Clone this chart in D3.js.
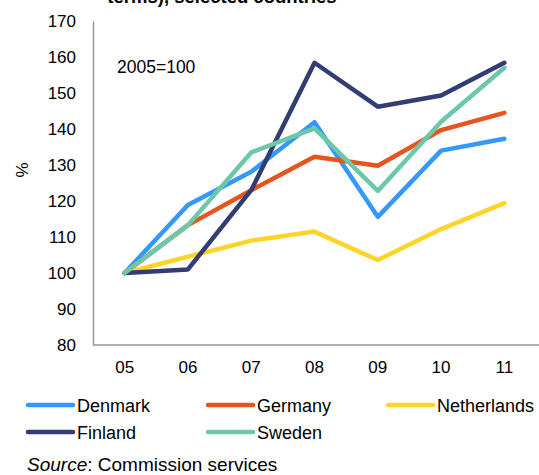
<!DOCTYPE html>
<html><head><meta charset="utf-8">
<script src="https://cdn.jsdelivr.net/npm/d3@7"></script>
<style>
html,body{margin:0;padding:0;background:#fff;}
svg{display:block;font-family:"Liberation Sans",Arial,sans-serif;}
</style></head>
<body>
<svg id="chart" width="539" height="475"></svg>
<script>
const categories = ["05","06","07","08","09","10","11"];
const yTicks = [80,90,100,110,120,130,140,150,160,170];
const seriesNames = ["Denmark","Germany","Netherlands","Finland","Sweden"];
const denmark     = [100,118.9,128.1,141.9,115.6,134.0,137.3];
const germany     = [100,113.3,123.0,132.3,129.8,139.7,144.5];
const netherlands = [100,104.5,109.0,111.5,103.6,112.2,119.4];
const finland     = [100,101.0,123.0,158.4,146.2,149.3,158.4];
const sweden      = [100,113.3,133.5,140.2,122.8,142.0,157.0];
const colors = ["#3399ff","#e8541e","#ffd42a","#333d73","#6cc9a8"];
const seriesValues = [denmark,germany,netherlands,finland,sweden];

(function(){
const svg = d3.select("#chart");
const mLeft = 93, mRight = 536, mTop = 21, mBottom = 345;

const x = d3.scaleBand().domain(categories).range([mLeft,mRight]);
const y = d3.scaleLinear().domain([80,170]).range([mBottom,mTop]);

// title (cut off at the top in the original)
svg.append("text").attr("x",222).attr("y",3).attr("text-anchor","middle")
  .attr("font-weight","bold").attr("font-size",18.5).text("terms), selected countries");

// axes
const yAxis = svg.append("g").attr("transform",`translate(${mLeft},0)`)
  .call(d3.axisLeft(y).tickValues(yTicks).tickSize(0).tickPadding(17));
yAxis.select(".domain").attr("stroke","#999").attr("stroke-width",1.5);
yAxis.selectAll("text").attr("font-size",17).attr("fill","#000")
  .attr("font-family","Liberation Sans, Arial, sans-serif");

const xAxis = svg.append("g").attr("transform",`translate(0,${mBottom})`)
  .call(d3.axisBottom(x).tickSize(0).tickPadding(16));
xAxis.select(".domain").attr("stroke","#999").attr("stroke-width",1.5).attr("d",`M${mLeft},0H539`);
xAxis.selectAll("text").attr("font-size",17).attr("fill","#000")
  .attr("font-family","Liberation Sans, Arial, sans-serif");

// y label
svg.append("text").attr("transform","translate(28,170) rotate(-90)")
  .attr("text-anchor","middle").attr("font-size",17).text("%");

svg.append("text").attr("x",117).attr("y",73).attr("font-size",17.5).text("2005=100");

const line = d3.line().x((d,i)=>x(categories[i])+x.bandwidth()/2).y(d=>y(d));
seriesValues.forEach((vals,k)=>{
  svg.append("path").datum(vals).attr("d",line).attr("fill","none")
    .attr("stroke",colors[k]).attr("stroke-width",4.5)
    .attr("stroke-linejoin","round").attr("stroke-linecap","round");
});

// legend
const legPos = [[28,405],[208,405],[388,405],[28,432],[208,432]];
seriesNames.forEach((n,k)=>{
  const [lx,ly] = legPos[k];
  svg.append("line").attr("x1",lx).attr("x2",lx+45).attr("y1",ly).attr("y2",ly)
    .attr("stroke",colors[k]).attr("stroke-width",4.5).attr("stroke-linecap","round");
  svg.append("text").attr("x",lx+49).attr("y",ly+6.5).attr("font-size",18).text(n);
});

const src = svg.append("text").attr("x",27).attr("y",471).attr("font-size",19);
src.append("tspan").attr("font-style","italic").text("Source");
src.append("tspan").text(": Commission services");
})();
</script>
</body></html>
